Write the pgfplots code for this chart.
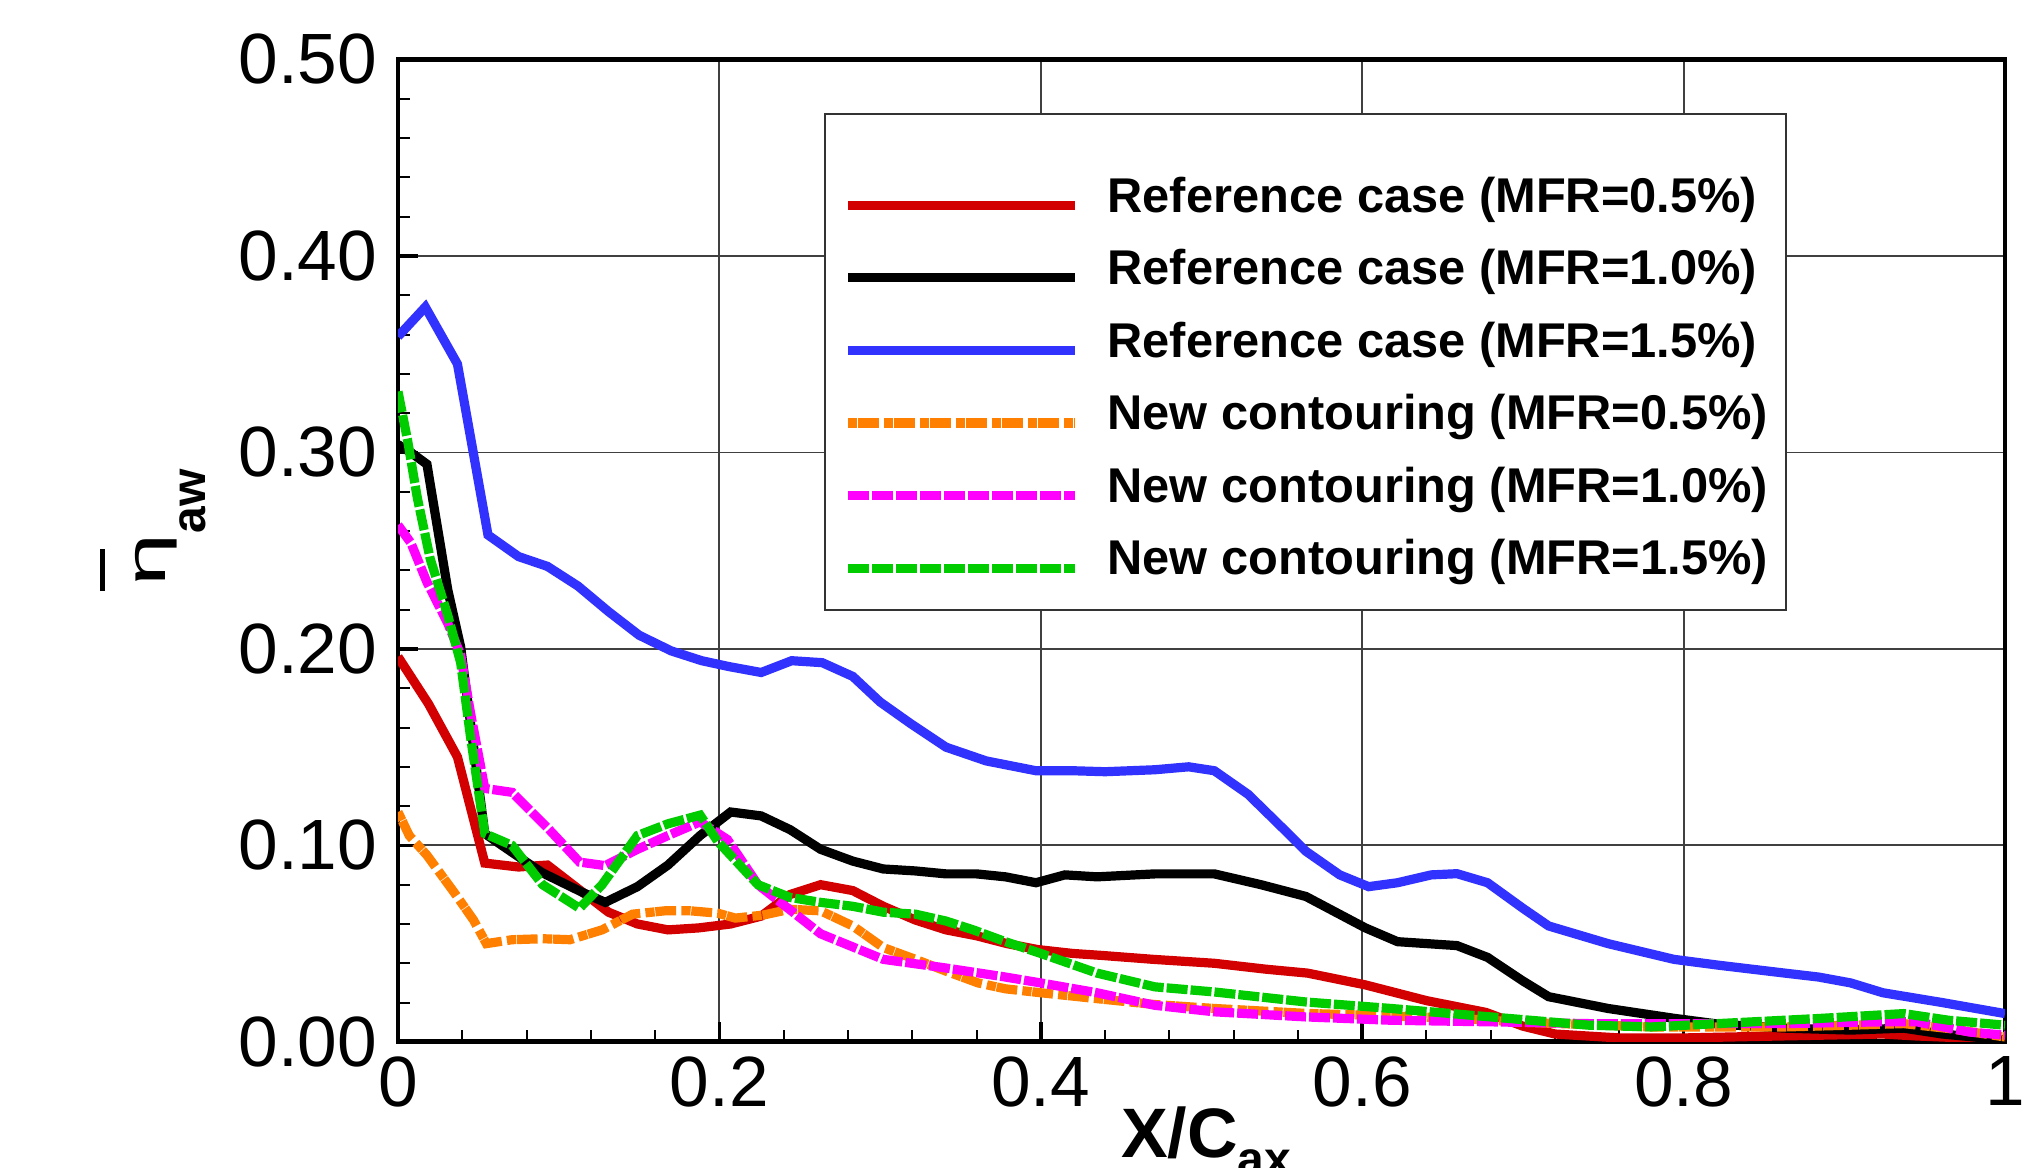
\documentclass[border=0pt]{standalone}
\usepackage{graphicx}
\usepackage{fontspec}
\setmainfont{Liberation Sans}
\usepackage{pgfplots}
\pgfplotsset{compat=1.18}
\usetikzlibrary{calc}

\definecolor{cRed}{RGB}{210,0,0}
\definecolor{cBlue}{RGB}{50,50,255}
\definecolor{cOrange}{RGB}{255,128,0}
\definecolor{cMagenta}{RGB}{255,0,255}
\definecolor{cGreen}{RGB}{0,204,0}

\begin{document}
\begin{tikzpicture}
\begin{axis}[
  name=ax,
  scale only axis,
  width=401.75pt, height=245.6pt,
  xmin=0, xmax=1, ymin=0, ymax=0.5,
  xtick={0,0.2,0.4,0.6,0.8,1},
  xticklabels={0,0.2,0.4,0.6,0.8,1},
  ytick={0,0.1,0.2,0.3,0.4,0.5},
  yticklabels={0.00,0.10,0.20,0.30,0.40,0.50},
  /pgf/number format/assume math mode=true,
  minor x tick num=4, minor y tick num=4,
  tick align=inside, tick pos=left,
  major tick length=5pt, minor tick length=3pt,
  every tick/.style={black, line width=0.9pt},
  every minor tick/.style={black, line width=0.5pt},
  grid=major,
  major grid style={black!75, line width=0.45pt},
  axis line style={line width=1.2pt},
  tick label style={font=\fontsize{17.8}{20}\selectfont},
  yticklabel style={inner xsep=5pt, inner ysep=0pt},
  xticklabel style={inner ysep=3.5pt, inner xsep=0pt},
  every axis x label/.style={at={(axis description cs:0.503,-0.118)}, anchor=base, inner sep=0pt},
  every axis y label/.style={at={(axis description cs:-0.1444,0.4631)}, rotate=90, anchor=base west, inner sep=0pt},
  xlabel={\bfseries\fontsize{17.5}{18}\selectfont X/C\raisebox{-4.5pt}{\fontsize{12}{12}\selectfont ax}},
  ylabel={\rlap{\hspace*{-1.25pt}\raisebox{15.3pt}{\rule{10.5pt}{1.3pt}}}\scalebox{1.7}[1]{\fontsize{14}{14}\selectfont η}\raisebox{-10pt}{\bfseries\fontsize{12}{12}\selectfont aw}},
  legend style={
    at={(0.2651,0.9455)}, anchor=north west,
    draw=black!80, line width=0.5pt, fill=white,
    inner xsep=4.65pt, inner ysep=5.8pt,
    row sep=6.3pt, column sep=7pt,
    nodes={inner sep=0pt, text depth=3pt},
    font=\bfseries\fontsize{12.2}{14}\selectfont,
  },
  legend cell align=left,
  legend image code/.code={\draw[#1] (0pt,-1.2pt) -- (56.7pt,-1.2pt);},
  every axis plot/.append style={line width=2.3pt},
]

% blank first legend row: extra room above the entries
\addlegendimage{empty legend}
\addlegendentry{\rule{0pt}{0.6pt}}

% Reference case, MFR = 0.5%
\addplot[cRed] coordinates {
(0,0.196) (0.019,0.172) (0.037,0.145) (0.054,0.091) (0.075,0.089) (0.093,0.090)
(0.131,0.066) (0.149,0.060) (0.168,0.057) (0.187,0.058) (0.207,0.060) (0.226,0.064)
(0.244,0.075) (0.263,0.080) (0.283,0.077) (0.302,0.069) (0.322,0.062) (0.341,0.057)
(0.360,0.054) (0.379,0.050) (0.398,0.047) (0.420,0.045) (0.438,0.044) (0.470,0.042)
(0.508,0.040) (0.540,0.037) (0.566,0.035) (0.602,0.029) (0.640,0.021) (0.677,0.015)
(0.700,0.008) (0.720,0.004) (0.760,0.002) (0.800,0.002) (0.860,0.003) (0.924,0.004)
(0.945,0.003) (0.975,0.002) (1.0,0.0)
};
\addlegendentry{Reference case (MFR=0.5\%)}

% Reference case, MFR = 1.0%
\addplot[black] coordinates {
(0,0.304) (0.008,0.300) (0.018,0.294) (0.031,0.230) (0.039,0.201) (0.054,0.106)
(0.079,0.092) (0.090,0.086) (0.115,0.076) (0.129,0.071) (0.149,0.079) (0.168,0.090)
(0.188,0.105) (0.207,0.117) (0.226,0.115) (0.244,0.108) (0.263,0.098) (0.283,0.092)
(0.302,0.088) (0.322,0.087) (0.341,0.0855) (0.360,0.0855) (0.378,0.084) (0.397,0.081)
(0.415,0.085) (0.435,0.084) (0.471,0.0855) (0.508,0.0855) (0.537,0.080) (0.565,0.074)
(0.602,0.058) (0.622,0.051) (0.659,0.049) (0.678,0.043) (0.700,0.031) (0.716,0.023)
(0.753,0.017) (0.794,0.012) (0.822,0.009) (0.863,0.007) (0.904,0.006) (0.937,0.007)
(0.961,0.004) (1.0,0.001)
};
\addlegendentry{Reference case (MFR=1.0\%)}

% Reference case, MFR = 1.5%
\addplot[cBlue] coordinates {
(0,0.359) (0.017,0.374) (0.037,0.345) (0.056,0.258) (0.075,0.247) (0.093,0.242)
(0.112,0.232) (0.131,0.219) (0.150,0.207) (0.170,0.199) (0.189,0.194) (0.206,0.191)
(0.226,0.188) (0.245,0.194) (0.264,0.193) (0.283,0.186) (0.300,0.173) (0.319,0.162)
(0.341,0.150) (0.366,0.143) (0.397,0.138) (0.420,0.138) (0.440,0.1375) (0.471,0.1385)
(0.492,0.140) (0.508,0.138) (0.529,0.126) (0.549,0.110) (0.565,0.097) (0.586,0.085)
(0.604,0.079) (0.622,0.081) (0.643,0.085) (0.659,0.0856) (0.678,0.081) (0.700,0.068)
(0.716,0.059) (0.753,0.050) (0.794,0.042) (0.822,0.039) (0.863,0.035) (0.884,0.033)
(0.904,0.030) (0.924,0.025) (0.961,0.020) (1.0,0.0144)
};
\addlegendentry{Reference case (MFR=1.5\%)}

% New contouring, MFR = 0.5%
\addplot[cOrange, dash pattern=on 2.3pt off 0.2pt on 5.2pt off 1.3pt] coordinates {
(0,0.117) (0.007,0.105) (0.018,0.095) (0.035,0.076) (0.047,0.062) (0.055,0.050)
(0.071,0.052) (0.090,0.0525) (0.107,0.052) (0.127,0.057) (0.146,0.065) (0.166,0.0667)
(0.182,0.0667) (0.199,0.0655) (0.210,0.063) (0.227,0.0645) (0.244,0.0675) (0.263,0.0667)
(0.283,0.059) (0.302,0.048) (0.322,0.042) (0.341,0.036) (0.361,0.030) (0.378,0.027)
(0.400,0.025) (0.435,0.022) (0.471,0.019) (0.508,0.017) (0.565,0.0145) (0.602,0.0136)
(0.659,0.012) (0.700,0.010) (0.780,0.0076) (0.863,0.0076) (0.904,0.0085) (0.937,0.0093)
(0.965,0.0068) (1.0,0.0025)
};
\addlegendentry{New contouring (MFR=0.5\%)}

% New contouring, MFR = 1.0%
\addplot[cMagenta, dash pattern=on 5.25pt off 0.75pt] coordinates {
(0,0.263) (0.008,0.254) (0.018,0.234) (0.031,0.213) (0.039,0.197) (0.045,0.168)
(0.054,0.129) (0.071,0.127) (0.093,0.109) (0.113,0.0915) (0.129,0.0897) (0.149,0.098)
(0.168,0.105) (0.188,0.112) (0.205,0.103) (0.224,0.080) (0.238,0.071) (0.263,0.055)
(0.302,0.042) (0.341,0.0376) (0.378,0.033) (0.400,0.030) (0.435,0.025) (0.471,0.0186)
(0.508,0.0153) (0.565,0.0127) (0.618,0.011) (0.680,0.0102) (0.741,0.0093) (0.863,0.0093)
(0.924,0.0102) (0.945,0.0102) (0.978,0.005) (1.0,0.0034)
};
\addlegendentry{New contouring (MFR=1.0\%)}

% New contouring, MFR = 1.5%
\addplot[cGreen, dash pattern=on 5.25pt off 0.75pt] coordinates {
(0,0.331) (0.006,0.306) (0.012,0.277) (0.020,0.246) (0.031,0.217) (0.039,0.193)
(0.045,0.156) (0.054,0.106) (0.071,0.100) (0.090,0.080) (0.113,0.068) (0.127,0.080)
(0.149,0.105) (0.168,0.111) (0.188,0.1154) (0.199,0.102) (0.224,0.080) (0.244,0.0735)
(0.263,0.071) (0.283,0.069) (0.302,0.066) (0.322,0.065) (0.341,0.0615) (0.358,0.057)
(0.378,0.051) (0.400,0.045) (0.435,0.035) (0.471,0.028) (0.508,0.0254) (0.565,0.0203)
(0.618,0.017) (0.680,0.0127) (0.741,0.0085) (0.780,0.0076) (0.843,0.0102) (0.884,0.0119)
(0.937,0.0144) (0.965,0.011) (1.0,0.0085)
};
\addlegendentry{New contouring (MFR=1.5\%)}

\end{axis}
\pgfresetboundingbox
\path[use as bounding box] ($(ax.south west)+(-99.5pt,-31.5pt)$) rectangle ($(ax.north east)+(5.5pt,14.875pt)$);
\end{tikzpicture}
\end{document}
